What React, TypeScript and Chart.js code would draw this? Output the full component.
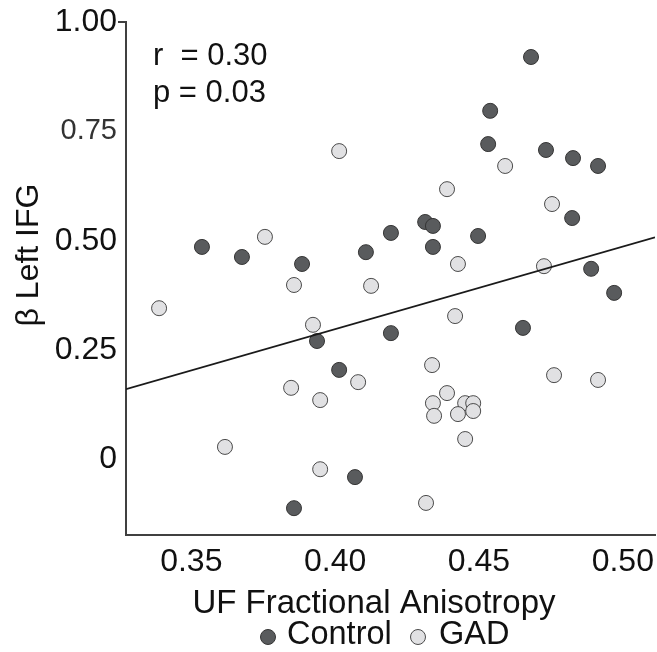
import React, { useEffect, useRef } from "react";
import { Chart, registerables } from "chart.js";

Chart.register(...registerables);

// ---- Data ----
const controlFA = [
  0.4681, 0.4539, 0.4532, 0.4733, 0.4827, 0.4914, 0.4824, 0.4313, 0.434, 0.4194, 0.4497, 0.434,
  0.489, 0.3537, 0.3676, 0.3885, 0.4107, 0.497, 0.4194, 0.4653, 0.3937, 0.4014, 0.4069, 0.3857,
];
const controlBeta = [
  0.92, 0.797, 0.721, 0.7075, 0.689, 0.671, 0.552, 0.543, 0.534, 0.518, 0.511, 0.486,
  0.436, 0.486, 0.463, 0.447, 0.474, 0.381, 0.289, 0.301, 0.271, 0.205, -0.04, -0.111,
];
const gadFA = [
  0.4014, 0.4591, 0.4389, 0.4754, 0.3756, 0.4427, 0.4726, 0.3857, 0.4125, 0.3388, 0.3923, 0.408,
  0.3847, 0.3948, 0.3617, 0.3948, 0.4417, 0.4337, 0.4761, 0.4914, 0.4389, 0.434, 0.4452, 0.448,
  0.4344, 0.4427, 0.448, 0.4452, 0.4316,
];
const gadBeta = [
  0.705, 0.671, 0.618, 0.584, 0.509, 0.447, 0.442, 0.399, 0.397, 0.346, 0.308, 0.177,
  0.164, 0.136, 0.029, -0.022, 0.328, 0.216, 0.193, 0.182, 0.152, 0.129, 0.129, 0.129,
  0.1, 0.104, 0.111, 0.047, -0.099,
];
const fitFA = [0.3273, 0.5112];
const fitBeta = [0.161, 0.508];

const xRange = [0.3273, 0.5112];
const yRange = [-0.1723, 1.0];
const xTickValues = [0.35, 0.4, 0.45, 0.5];
const xTickLabels = ["0.35", "0.40", "0.45", "0.50"];
const yTickValues = [0, 0.25, 0.5, 0.75, 1.0];
const yTickLabels = ["0", "0.25", "0.50", "0.75", "1.00"];
const seriesNames = ["Control", "GAD"];
const statsLines = ["r  = 0.30", "p = 0.03"];
const xTitle = "UF Fractional Anisotropy";
const yTitle = "β Left IFG";

const FONT = "'Liberation Sans', Arial, Helvetica, sans-serif";
const CONTROL_FILL = "#595b5d";
const CONTROL_STROKE = "#353535";
const GAD_FILL = "#e1e1e3";
const GAD_STROKE = "#4a4a4a";
const TEXT = "#111111";

const textPlugin = {
  id: "extraTexts",
  afterDraw(chart: any) {
    const ctx = chart.ctx as CanvasRenderingContext2D;
    ctx.save();
    ctx.fillStyle = TEXT;

    // Y axis title (rotated)
    ctx.save();
    ctx.translate(38, 255);
    ctx.rotate(-Math.PI / 2);
    ctx.font = `32px ${FONT}`;
    ctx.textAlign = "center";
    ctx.textBaseline = "alphabetic";
    ctx.fillText(yTitle, 0, 0);
    ctx.restore();

    // X axis title
    ctx.font = `33px ${FONT}`;
    ctx.textAlign = "center";
    ctx.textBaseline = "alphabetic";
    ctx.fillText(xTitle, 374, 613);

    // Stats annotation
    ctx.font = `31px ${FONT}`;
    ctx.textAlign = "left";
    ctx.fillText(statsLines[0], 153, 65);
    ctx.fillText(statsLines[1], 153, 102);

    // Legend
    ctx.font = `32.5px ${FONT}`;
    const drawMarker = (cx: number, cy: number, fill: string, stroke: string) => {
      ctx.beginPath();
      ctx.arc(cx, cy, 7.5, 0, Math.PI * 2);
      ctx.fillStyle = fill;
      ctx.fill();
      ctx.lineWidth = 1;
      ctx.strokeStyle = stroke;
      ctx.stroke();
    };
    drawMarker(268, 637, CONTROL_FILL, CONTROL_STROKE);
    ctx.fillStyle = TEXT;
    ctx.fillText(seriesNames[0], 287, 644);
    drawMarker(418, 637, GAD_FILL, GAD_STROKE);
    ctx.fillStyle = TEXT;
    ctx.fillText(seriesNames[1], 439, 644);

    ctx.restore();
  },
};

export default function App() {
  const canvasRef = useRef<HTMLCanvasElement | null>(null);

  useEffect(() => {
    document.body.style.margin = "0";
    document.body.style.overflow = "hidden";
    const canvas = canvasRef.current;
    if (!canvas) return;

    const toPoints = (xs: number[], ys: number[]) => xs.map((x, i) => ({ x, y: ys[i] }));

    const chart = new Chart(canvas, {
      type: "scatter",
      data: {
        datasets: [
          {
            type: "line",
            label: "fit",
            data: toPoints(fitFA, fitBeta),
            borderColor: "#1a1a1a",
            borderWidth: 1.8,
            pointRadius: 0,
            fill: false,
            order: 0,
          } as any,
          {
            label: seriesNames[1],
            data: toPoints(gadFA, gadBeta),
            backgroundColor: GAD_FILL,
            borderColor: GAD_STROKE,
            borderWidth: 1,
            pointRadius: 7.5,
            order: 1,
          },
          {
            label: seriesNames[0],
            data: toPoints(controlFA, controlBeta),
            backgroundColor: CONTROL_FILL,
            borderColor: CONTROL_STROKE,
            borderWidth: 1,
            pointRadius: 7.5,
            order: 2,
          },
        ],
      },
      options: {
        animation: false,
        responsive: false,
        devicePixelRatio: 1,
        events: [],
        layout: { autoPadding: false, padding: { top: 22, right: 2, left: 0, bottom: 0 } },
        plugins: {
          legend: { display: false },
          tooltip: { enabled: false },
        },
        scales: {
          x: {
            type: "linear",
            min: xRange[0],
            max: xRange[1],
            afterBuildTicks: (scale: any) => {
              scale.ticks = xTickValues.map((v) => ({ value: v }));
            },
            afterFit: (scale: any) => {
              scale.height = 117;
              scale.paddingLeft = 0;
              scale.paddingRight = 0;
            },
            grid: { display: false, drawTicks: false },
            border: { display: true, color: "#404040", width: 2 },
            ticks: {
              padding: 8,
              color: TEXT,
              font: { family: FONT, size: 32 },
              maxRotation: 0,
              callback: (value: any) => {
                const i = xTickValues.findIndex((v) => Math.abs(v - Number(value)) < 1e-9);
                return i >= 0 ? xTickLabels[i] : "";
              },
            },
          },
          y: {
            type: "linear",
            min: yRange[0],
            max: yRange[1],
            afterBuildTicks: (scale: any) => {
              scale.ticks = yTickValues.map((v) => ({ value: v }));
            },
            afterFit: (scale: any) => {
              scale.width = 126;
              scale.paddingTop = 0;
              scale.paddingBottom = 0;
            },
            grid: {
              display: true,
              drawOnChartArea: false,
              drawTicks: true,
              tickLength: 8,
              lineWidth: 2,
              color: (ctx: any) =>
                ctx.tick && Math.abs(ctx.tick.value - 1) < 1e-9 ? "#404040" : "rgba(0,0,0,0)",
            },
            border: { display: true, color: "#404040", width: 2 },
            ticks: {
              padding: 1,
              color: (ctx: any) =>
                ctx.tick && Math.abs(ctx.tick.value - 0.75) < 1e-9 ? "#333333" : TEXT,
              font: (ctx: any) =>
                ctx.tick && Math.abs(ctx.tick.value - 0.75) < 1e-9
                  ? { family: FONT, size: 29 }
                  : { family: FONT, size: 32 },
              callback: (value: any) => {
                const i = yTickValues.findIndex((v) => Math.abs(v - Number(value)) < 1e-9);
                return i >= 0 ? yTickLabels[i] : "";
              },
            },
          },
        },
      },
      plugins: [textPlugin],
    });

    return () => {
      chart.destroy();
    };
  }, []);

  return (
    <div style={{ position: "absolute", left: 0, top: 0, width: 657, height: 652 }}>
      <canvas ref={canvasRef} width={657} height={652} style={{ display: "block" }} />
    </div>
  );
}
